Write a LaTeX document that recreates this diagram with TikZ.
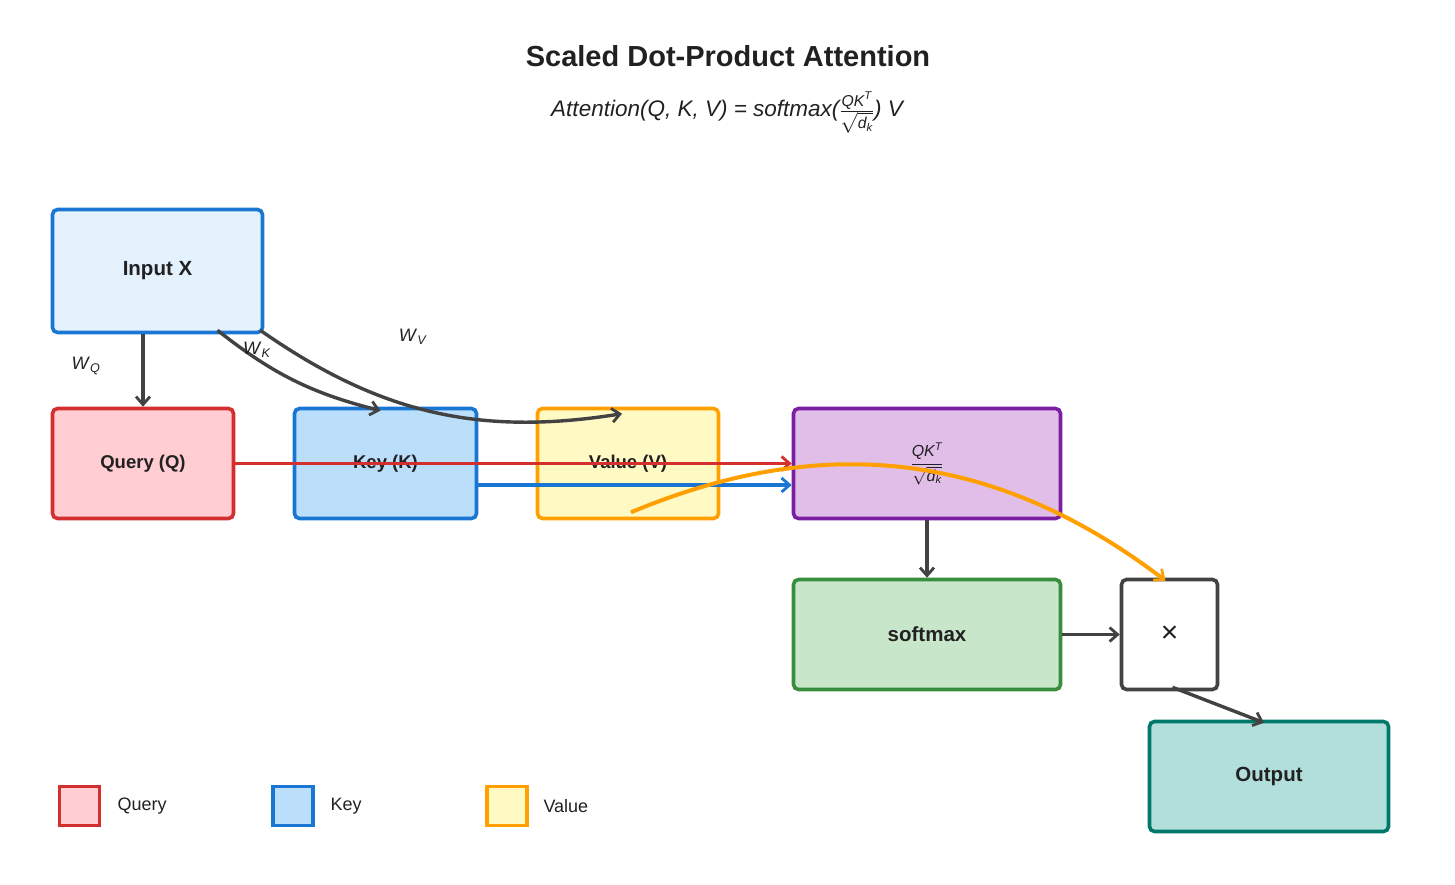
\documentclass[tikz,border=0pt]{standalone}
\usepackage{amsmath}
\usepackage{fontspec}
\setmainfont{Liberation Sans}
\usetikzlibrary{arrows.meta,calc}

\definecolor{txt}{HTML}{212121}
\definecolor{dark}{HTML}{424242}
\definecolor{inpfill}{HTML}{E3F2FD}
\definecolor{qblue}{HTML}{1976D2}
\definecolor{kfill}{HTML}{BBDEFB}
\definecolor{qfill}{HTML}{FFCDD2}
\definecolor{qred}{HTML}{D32F2F}
\definecolor{vfill}{HTML}{FFF9C4}
\definecolor{vorange}{HTML}{FFA000}
\definecolor{qkfill}{HTML}{E1BEE7}
\definecolor{qkpurple}{HTML}{7B1FA2}
\definecolor{smfill}{HTML}{C8E6C9}
\definecolor{smgreen}{HTML}{388E3C}
\definecolor{outfill}{HTML}{B2DFDB}
\definecolor{outteal}{HTML}{00796B}

\newcommand{\fsz}[1]{\fontsize{#1}{#1}\selectfont}

\begin{document}
\begin{tikzpicture}[x=1pt,y=-1pt,
    box/.style={draw,rounded corners=5pt,line width=3.6pt,text=txt,inner sep=0pt},
    lbl/.style={font=\bfseries\fsz{20.5}},
    smalllbl/.style={font=\bfseries\fsz{18.5}},
    flow/.style={draw=dark,line width=3.4pt,-{Straight Barb[length=8pt,width=14pt,line width=2.8pt]}},
    wlbl/.style={text=txt,font=\fsz{18}},
    legbox/.style={draw,line width=3.2pt,minimum width=40pt,minimum height=39pt,inner sep=0pt},
    legtxt/.style={anchor=west,text=txt,font=\fsz{18}}]
  \useasboundingbox (0,0) rectangle (1455,885);

  % title and formula
  \node[text=txt,font=\bfseries\fsz{29}] (title) at (728,56) {Scaled Dot-Product Attention};
  \node[text=txt,font=\itshape\fsz{22.5}] (formula) at (727,113)
    {Attention(Q, K, V) = softmax($\frac{\textit{QK}^{\textit{T}}}{\sqrt{\textit{d}_{\textit{k}}}}$) V};

  % boxes
  \node[box,lbl,draw=qblue,fill=inpfill,minimum width=210pt,minimum height=123pt] (inp) at (157.5,271) {Input X};
  \node[box,smalllbl,draw=qred,fill=qfill,minimum width=181pt,minimum height=110pt] (q) at (143,463.5) {Query (Q)};
  \node[box,smalllbl,draw=qblue,fill=kfill,minimum width=182pt,minimum height=110pt] (k) at (385.5,463.5) {Key (K)};
  \node[box,smalllbl,draw=vorange,fill=vfill,minimum width=181pt,minimum height=110pt] (v) at (628,463.5) {Value (V)};
  \node[box,draw=qkpurple,fill=qkfill,minimum width=267pt,minimum height=110pt,font=\fsz{16}] (qk) at (927,463.5)
    {$\dfrac{\textit{QK}^{\textit{T}}}{\sqrt{\textit{d}_{\textit{k}}}}$};
  \node[box,lbl,draw=smgreen,fill=smfill,minimum width=267pt,minimum height=110pt] (sm) at (927,634.5) {softmax};
  \node[box,draw=dark,fill=white,minimum width=96pt,minimum height=110pt,font=\fsz{30}] (mul) at (1169.5,634.5) {×};
  \node[box,lbl,draw=outteal,fill=outfill,minimum width=239pt,minimum height=110pt] (out) at (1269,776.5) {Output};

  % projections
  \draw[flow] (q.north |- inp.south) -- (q.north);
  \draw[flow] ($(inp.south)+(60,-4)$) to[bend right=12] ($(k.north)+(-5,4)$);
  \draw[flow] ($(inp.south east)+(-4,-4)$) to[bend right=22] ($(v.north)+(-6,7)$);
  \node[wlbl] (wq) at (86,366) {\textit{W}\textsubscript{\textit{Q}}};
  \node[wlbl] (wk) at (257,350) {\textit{W}\textsubscript{\textit{K}}};
  \node[wlbl] (wv) at (413,337) {\textit{W}\textsubscript{\textit{V}}};

  % Q, K, V into the score and the product
  \draw[flow,draw=qred] (q.east) -- (qk.west);
  \draw[flow,draw=qblue] ([yshift=-21.5pt]k.east) -- ([yshift=-21.5pt]qk.west);
  \draw[flow,draw=vorange,line width=4pt] ($(v.south)+(3,-8)$) to[bend left=30] ($(mul.north)+(-4,3)$);
  \draw[flow] (qk) -- (sm);
  \draw[flow] (sm) -- (mul);
  \draw[flow] ($(mul.south)+(3,-4)$) -- ($(out.north)+(-5,3)$);

  % legend
  \node[legbox,draw=qred,fill=qfill] (legq) at (79.5,806) {};
  \node[legtxt] (legqt) at (114,806) {Query};
  \node[legbox,draw=qblue,fill=kfill] (legk) at (293,806) {};
  \node[legtxt] (legkt) at (327,806) {Key};
  \node[legbox,draw=vorange,fill=vfill] (legv) at (507,806) {};
  \node[legtxt] (legvt) at (540,806) {Value};
\end{tikzpicture}
\end{document}
